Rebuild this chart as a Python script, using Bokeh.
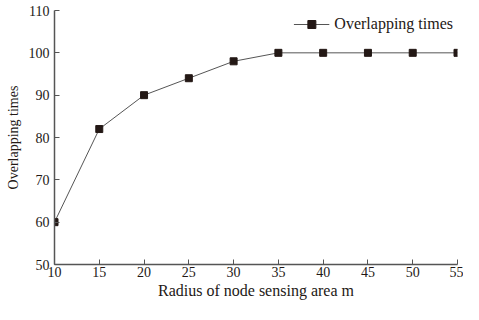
from bokeh.plotting import figure
from bokeh.models import Range1d, FixedTicker, Legend, LegendItem
from bokeh.embed import file_html
from bokeh.resources import INLINE

radius = [10, 15, 20, 25, 30, 35, 40, 45, 50, 55]
overlap = [60, 82, 90, 94, 98, 100, 100, 100, 100, 100]
x_ticks = [10, 15, 20, 25, 30, 35, 40, 45, 50, 55]
y_ticks = [50, 60, 70, 80, 90, 100, 110]

FONT = "Liberation Serif"
INK = "#231815"

p = figure(width=463, height=304, output_backend="svg", toolbar_location=None,
           x_range=Range1d(10, 55), y_range=Range1d(50, 110),
           min_border_left=54, min_border_right=6, min_border_top=10, min_border_bottom=40)
p.outline_line_color = None
p.xgrid.visible = False
p.ygrid.visible = False

ln = p.line(radius, overlap, line_color="#555555", line_width=1)
mk = p.scatter(radius, overlap, marker="square", size=7, fill_color=INK, line_color=INK)

for ax, ticks in ((p.xaxis[0], x_ticks), (p.yaxis[0], y_ticks)):
    ax.ticker = FixedTicker(ticks=ticks)
    ax.major_tick_in = 5
    ax.major_tick_out = 0
    ax.minor_tick_in = 0
    ax.minor_tick_out = 0
    ax.axis_line_color = "#555555"
    ax.axis_line_width = 1.5
    ax.major_tick_line_color = "#555555"
    ax.major_label_text_font = FONT
    ax.major_label_text_font_size = "14px"
    ax.major_label_text_color = INK
    ax.axis_label_text_font = FONT
    ax.axis_label_text_font_style = "normal"
    ax.axis_label_text_color = INK

p.xaxis.axis_label = "Radius of node sensing area m"
p.yaxis.axis_label = "Overlapping times"
p.xaxis.axis_label_text_font_size = "16px"
p.yaxis.axis_label_text_font_size = "14px"
p.xaxis.major_label_standoff = 2
p.yaxis.major_label_standoff = 5
p.xaxis.axis_label_standoff = 2
p.yaxis.axis_label_standoff = 5

legend = Legend(items=[LegendItem(label="Overlapping times", renderers=[ln, mk])],
                location="top_right", border_line_color=None, background_fill_alpha=0,
                label_text_font=FONT, label_text_font_size="16px", label_text_color=INK,
                glyph_width=36, label_standoff=5, padding=2, margin=4, spacing=0)
p.add_layout(legend)

open("out.html", "w").write(file_html(p, INLINE))
